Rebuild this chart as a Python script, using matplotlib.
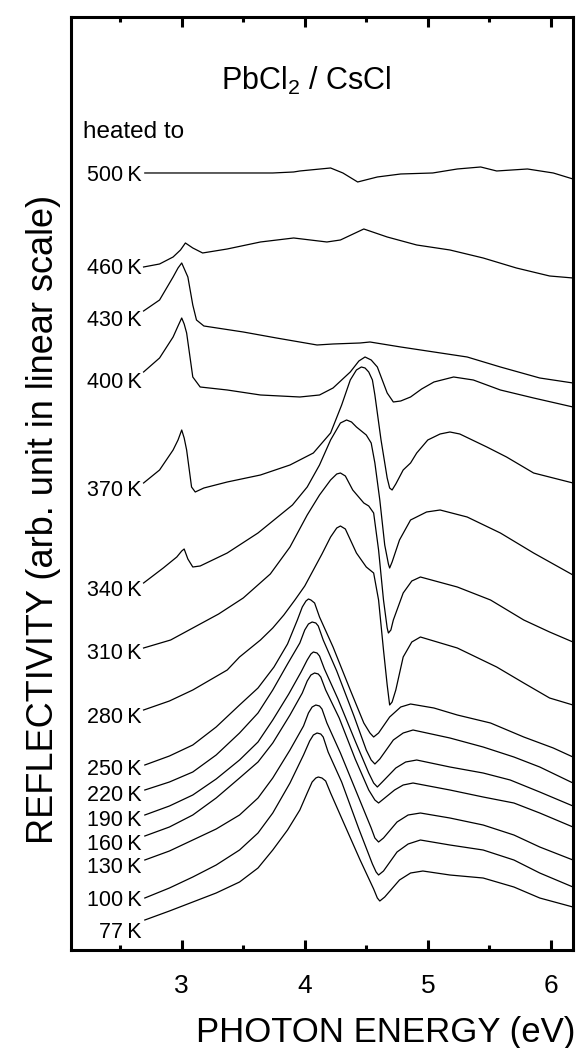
import matplotlib
matplotlib.use('Agg')
import matplotlib.pyplot as plt

plt.rcParams['font.family'] = ['Liberation Sans', 'DejaVu Sans']
plt.rcParams['mathtext.fontset'] = 'custom'
plt.rcParams['mathtext.rm'] = 'Liberation Sans'

# photon energy (eV) and reflectivity (arb. units, already offset)
e_500 = [2.70, 3.74, 3.91, 3.96, 4.21, 4.31, 4.43, 4.59, 4.78, 5.04, 5.24, 5.43, 5.56, 5.81, 6.02, 6.18]
r_500 = [7.77, 7.77, 7.78, 7.79, 7.82, 7.77, 7.68, 7.73, 7.76, 7.77, 7.81, 7.83, 7.79, 7.81, 7.77, 7.71]

e_460 = [2.69, 2.82, 2.93, 2.99, 3.03, 3.09, 3.17, 3.37, 3.64, 3.91, 4.18, 4.29, 4.48, 4.67, 4.91, 5.18, 5.45, 5.72, 5.99, 6.18]
r_460 = [6.83, 6.86, 6.93, 7.00, 7.07, 7.02, 6.97, 7.01, 7.08, 7.12, 7.08, 7.10, 7.21, 7.13, 7.05, 7.00, 6.92, 6.82, 6.74, 6.72]

e_430 = [2.69, 2.82, 2.93, 2.97, 3.00, 3.05, 3.09, 3.12, 3.18, 3.50, 3.77, 4.10, 4.23, 4.45, 4.53, 4.78, 5.05, 5.32, 5.59, 5.91, 6.18]
r_430 = [6.39, 6.50, 6.73, 6.82, 6.87, 6.73, 6.45, 6.30, 6.24, 6.18, 6.12, 6.05, 6.06, 6.07, 6.08, 6.03, 5.98, 5.93, 5.83, 5.72, 5.67]

e_400 = [2.69, 2.82, 2.93, 2.97, 3.00, 3.02, 3.04, 3.09, 3.15, 3.37, 3.64, 3.96, 4.12, 4.23, 4.37, 4.44, 4.49, 4.54, 4.59,
         4.67, 4.72, 4.78, 4.86, 4.95, 5.05, 5.21, 5.37, 5.59, 5.86, 6.18]
r_400 = [5.78, 5.92, 6.13, 6.24, 6.32, 6.26, 6.17, 5.73, 5.63, 5.60, 5.55, 5.53, 5.55, 5.62, 5.78, 5.89, 5.93, 5.90, 5.83,
         5.57, 5.48, 5.49, 5.53, 5.61, 5.68, 5.73, 5.70, 5.60, 5.52, 5.43]

e_370 = [2.69, 2.82, 2.93, 2.97, 3.00, 3.02, 3.04, 3.08, 3.11, 3.18, 3.37, 3.64, 3.88, 4.07, 4.21, 4.30, 4.37, 4.42, 4.46,
         4.49, 4.52, 4.55, 4.57, 4.62, 4.67, 4.69, 4.71, 4.74, 4.80, 4.86, 4.91, 5.00, 5.10, 5.18, 5.26, 5.48, 5.64, 5.86, 6.18]
r_370 = [4.67, 4.80, 5.00, 5.10, 5.20, 5.12, 5.00, 4.63, 4.58, 4.62, 4.68, 4.75, 4.85, 4.97, 5.17, 5.45, 5.70, 5.80, 5.83,
         5.82, 5.78, 5.70, 5.55, 5.10, 4.72, 4.62, 4.60, 4.66, 4.80, 4.87, 4.97, 5.10, 5.16, 5.18, 5.16, 5.03, 4.93, 4.77, 4.67]

e_340 = [2.69, 2.85, 2.96, 3.00, 3.02, 3.05, 3.09, 3.15, 3.37, 3.47, 3.62, 3.75, 3.90, 4.02, 4.12, 4.21, 4.29, 4.34,
         4.38, 4.42, 4.50, 4.54, 4.57, 4.61, 4.65, 4.68, 4.69, 4.71, 4.77, 4.86, 4.99, 5.10, 5.32, 5.59, 5.86, 6.18]
r_340 = [3.67, 3.82, 3.93, 3.99, 4.01, 3.91, 3.83, 3.84, 3.97, 4.05, 4.17, 4.30, 4.45, 4.63, 4.85, 5.10, 5.27, 5.30,
         5.28, 5.23, 5.15, 5.07, 4.87, 4.50, 4.05, 3.86, 3.82, 3.88, 4.10, 4.30, 4.38, 4.40, 4.33, 4.17, 3.97, 3.75]

e_310 = [2.69, 2.91, 3.09, 3.30, 3.50, 3.72, 3.88, 4.02, 4.12, 4.21, 4.26, 4.29, 4.33, 4.39, 4.48, 4.52, 4.56, 4.60,
         4.64, 4.67, 4.68, 4.70, 4.72, 4.80, 4.87, 4.94, 5.24, 5.51, 5.78, 5.99, 6.18]
r_310 = [3.02, 3.10, 3.22, 3.36, 3.52, 3.76, 4.03, 4.35, 4.55, 4.70, 4.76, 4.77, 4.74, 4.60, 4.47, 4.44, 4.37, 4.00,
         3.50, 3.22, 3.17, 3.20, 3.30, 3.57, 3.69, 3.73, 3.63, 3.50, 3.30, 3.18, 3.08]

e_280 = [2.69, 2.90, 3.09, 3.37, 3.47, 3.64, 3.74, 3.83, 3.92, 4.00, 4.07, 4.14, 4.21, 4.26, 4.29, 4.33, 4.42, 4.50,
         4.56, 4.60, 4.64, 4.67, 4.69, 4.71, 4.74, 4.80, 4.87, 4.94, 5.24, 5.56, 5.78, 5.99, 6.18]
r_280 = [2.40, 2.49, 2.60, 2.80, 2.93, 3.10, 3.22, 3.35, 3.50, 3.64, 3.80, 3.96, 4.13, 4.22, 4.24, 4.21, 3.97, 3.83,
         3.77, 3.50, 3.00, 2.65, 2.45, 2.48, 2.60, 2.93, 3.08, 3.13, 3.02, 2.83, 2.67, 2.52, 2.45]

e_250 = [2.70, 2.90, 3.09, 3.28, 3.47, 3.62, 3.75, 3.86, 3.94, 3.98, 4.01, 4.03, 4.05, 4.08, 4.12, 4.23, 4.37, 4.48,
         4.53, 4.56, 4.60, 4.69, 4.78, 4.86, 5.05, 5.24, 5.51, 5.78, 6.02, 6.18]
r_250 = [1.85, 1.94, 2.05, 2.23, 2.45, 2.62, 2.83, 3.06, 3.30, 3.43, 3.49, 3.51, 3.50, 3.47, 3.33, 3.03, 2.60, 2.27,
         2.17, 2.13, 2.17, 2.33, 2.43, 2.46, 2.42, 2.35, 2.27, 2.13, 2.02, 1.93]

e_220 = [2.70, 2.90, 3.09, 3.28, 3.47, 3.62, 3.74, 3.86, 3.96, 4.00, 4.03, 4.06, 4.09, 4.11, 4.15, 4.26, 4.40, 4.50,
         4.54, 4.57, 4.61, 4.72, 4.80, 4.88, 5.18, 5.45, 5.70, 5.91, 6.18]
r_220 = [1.60, 1.68, 1.78, 1.95, 2.17, 2.37, 2.60, 2.86, 3.07, 3.20, 3.26, 3.28, 3.27, 3.24, 3.10, 2.79, 2.34, 2.00,
         1.90, 1.86, 1.91, 2.10, 2.17, 2.20, 2.12, 2.03, 1.93, 1.83, 1.67]

e_190 = [2.70, 2.90, 3.09, 3.28, 3.47, 3.62, 3.74, 3.87, 3.97, 4.02, 4.05, 4.07, 4.10, 4.12, 4.16, 4.27, 4.41, 4.52,
         4.56, 4.59, 4.63, 4.74, 4.82, 4.91, 5.18, 5.45, 5.67, 5.91, 6.18]
r_190 = [1.35, 1.44, 1.55, 1.71, 1.90, 2.08, 2.30, 2.56, 2.78, 2.90, 2.96, 2.98, 2.97, 2.94, 2.81, 2.51, 2.09, 1.77,
         1.67, 1.63, 1.68, 1.82, 1.88, 1.90, 1.83, 1.77, 1.70, 1.58, 1.44]

e_160 = [2.70, 2.90, 3.09, 3.28, 3.47, 3.62, 3.74, 3.88, 3.98, 4.02, 4.05, 4.08, 4.11, 4.13, 4.17, 4.28, 4.41, 4.52,
         4.57, 4.60, 4.64, 4.73, 4.80, 4.88, 5.18, 5.45, 5.70, 5.91, 6.18]
r_160 = [1.14, 1.23, 1.35, 1.52, 1.72, 1.88, 2.07, 2.35, 2.57, 2.69, 2.75, 2.77, 2.76, 2.73, 2.60, 2.32, 1.91, 1.60,
         1.50, 1.47, 1.51, 1.60, 1.65, 1.67, 1.60, 1.53, 1.47, 1.37, 1.23]

e_130 = [2.70, 2.90, 3.09, 3.28, 3.47, 3.62, 3.74, 3.88, 3.99, 4.03, 4.06, 4.09, 4.12, 4.14, 4.18, 4.29, 4.43, 4.54,
         4.57, 4.60, 4.64, 4.75, 4.84, 4.94, 5.18, 5.45, 5.70, 5.91, 6.18]
r_130 = [0.90, 0.99, 1.10, 1.21, 1.35, 1.52, 1.72, 2.00, 2.24, 2.37, 2.43, 2.45, 2.44, 2.41, 2.27, 1.97, 1.55, 1.22,
         1.12, 1.08, 1.12, 1.28, 1.35, 1.37, 1.32, 1.25, 1.15, 1.03, 0.90]

e_100 = [2.70, 2.90, 3.09, 3.28, 3.47, 3.62, 3.74, 3.88, 3.99, 4.04, 4.07, 4.10, 4.13, 4.15, 4.19, 4.30, 4.44, 4.55,
         4.58, 4.60, 4.64, 4.75, 4.84, 4.94, 5.18, 5.45, 5.70, 5.91, 6.18]
r_100 = [0.52, 0.62, 0.73, 0.85, 1.00, 1.17, 1.37, 1.67, 1.95, 2.09, 2.15, 2.17, 2.16, 2.13, 1.98, 1.68, 1.21, 0.86,
         0.78, 0.75, 0.79, 0.98, 1.06, 1.10, 1.05, 1.00, 0.90, 0.77, 0.63]

e_77 = [2.70, 2.90, 3.09, 3.28, 3.47, 3.62, 3.74, 3.86, 3.96, 4.02, 4.06, 4.09, 4.11, 4.14, 4.17, 4.21, 4.31, 4.45,
        4.56, 4.59, 4.61, 4.65, 4.77, 4.86, 4.96, 5.18, 5.45, 5.70, 5.91, 6.18]
r_77 = [0.30, 0.39, 0.48, 0.57, 0.68, 0.82, 1.00, 1.20, 1.40, 1.57, 1.68, 1.72, 1.73, 1.72, 1.69, 1.57, 1.29, 0.90,
        0.61, 0.52, 0.49, 0.53, 0.70, 0.77, 0.79, 0.75, 0.72, 0.63, 0.52, 0.43]

temps = ['500', '460', '430', '400', '370', '340', '310', '280', '250', '220', '190', '160', '130', '100', '77']
energies = [e_500, e_460, e_430, e_400, e_370, e_340, e_310, e_280, e_250, e_220, e_190, e_160, e_130, e_100, e_77]
reflect = [r_500, r_460, r_430, r_400, r_370, r_340, r_310, r_280, r_250, r_220, r_190, r_160, r_130, r_100, r_77]

# baseline height of each temperature label
label_y = [7.69, 6.76, 6.24, 5.62, 4.54, 3.54, 2.91, 2.27, 1.75, 1.49, 1.24, 1.00, 0.77, 0.44, 0.12]

fig = plt.figure(figsize=(5.78, 10.48), dpi=100)
ax = fig.add_axes([0.1228, 0.0935, 0.8685, 0.8903])

for e, r in zip(energies, reflect):
    ax.plot(e, r, color='black', lw=0.9)

for t, yb in zip(temps, label_y):
    ax.text(2.675, yb, t + '\u2009K', fontsize=15.5, ha='right', va='baseline')

ax.text(2.20, 8.12, 'heated to', fontsize=17.5, ha='left', va='baseline')
ax.text(3.32, 8.60, 'PbCl$_\\mathregular{2}$ / CsCl', fontsize=22, ha='left', va='baseline')

ax.set_xlim(2.10, 6.18)
ax.set_ylim(0, 9.33)
ax.set_xticks([3, 4, 5, 6])
ax.set_xticks([2.5, 3.5, 4.5, 5.5], minor=True)
ax.set_yticks([])
ax.tick_params(axis='x', which='both', direction='in', top=True, bottom=True, width=2.2)
ax.tick_params(axis='x', which='major', length=7, labelsize=19, pad=17)
ax.tick_params(axis='x', which='minor', length=3.5)
for sp in ax.spines.values():
    sp.set_linewidth(2.2)

fig.text(0.9948, 0.006, 'PHOTON ENERGY (eV)', fontsize=25, ha='right', va='baseline')
fig.text(0.092, 0.504, 'REFLECTIVITY (arb. unit in linear scale)', fontsize=26,
         rotation=90, rotation_mode='anchor', ha='center', va='baseline')

fig.savefig('out.png', dpi=100)
